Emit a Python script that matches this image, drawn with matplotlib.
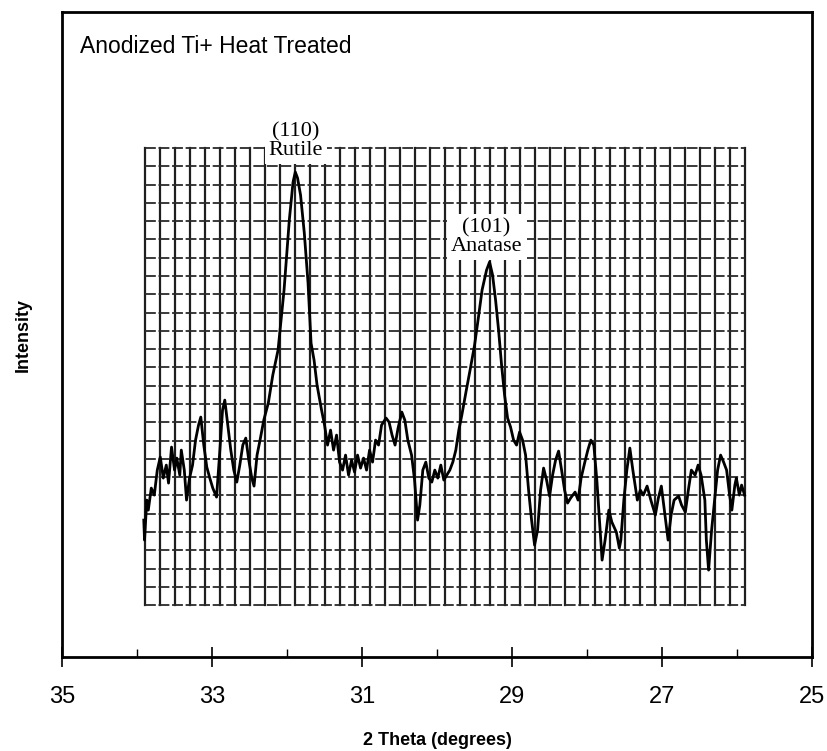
import numpy as np
import matplotlib.pyplot as plt

# XRD trace (2 theta in degrees, intensity in arbitrary units)
two_theta = [33.91, 33.90, 33.87, 33.85, 33.81, 33.77, 33.73, 33.69, 33.65, 33.61,
             33.58, 33.54, 33.50, 33.47, 33.43, 33.41, 33.37, 33.34, 33.30, 33.26,
             33.22, 33.18, 33.15, 33.11, 33.07, 33.03, 32.99, 32.94, 32.90, 32.86,
             32.83, 32.79, 32.75, 32.71, 32.67, 32.63, 32.59, 32.55, 32.51, 32.47,
             32.44, 32.40, 32.36, 32.31, 32.25, 32.19, 32.12, 32.04, 31.97, 31.92,
             31.89, 31.86, 31.82, 31.77, 31.72, 31.68, 31.64, 31.60, 31.54, 31.50,
             31.46, 31.42, 31.38, 31.34, 31.30, 31.26, 31.22, 31.18, 31.14, 31.10,
             31.06, 31.02, 30.98, 30.94, 30.90, 30.86, 30.82, 30.78, 30.74, 30.68,
             30.64, 30.60, 30.56, 30.52, 30.47, 30.43, 30.39, 30.34, 30.30, 30.26,
             30.23, 30.19, 30.15, 30.11, 30.07, 30.03, 29.99, 29.95, 29.91, 29.87,
             29.83, 29.79, 29.75, 29.71, 29.67, 29.61, 29.56, 29.50, 29.45, 29.40,
             29.34, 29.30, 29.26, 29.22, 29.18, 29.14, 29.10, 29.06, 29.02, 28.98,
             28.94, 28.90, 28.86, 28.82, 28.78, 28.74, 28.70, 28.66, 28.62, 28.58,
             28.54, 28.50, 28.46, 28.42, 28.38, 28.34, 28.30, 28.26, 28.22, 28.16,
             28.12, 28.08, 28.03, 27.99, 27.95, 27.91, 27.87, 27.84, 27.80, 27.76,
             27.71, 27.67, 27.61, 27.57, 27.55, 27.51, 27.47, 27.43, 27.39, 27.33,
             27.29, 27.25, 27.20, 27.15, 27.09, 27.05, 27.01, 26.97, 26.92, 26.88,
             26.84, 26.78, 26.74, 26.69, 26.65, 26.61, 26.56, 26.52, 26.48, 26.43,
             26.41, 26.38, 26.34, 26.30, 26.26, 26.22, 26.18, 26.14, 26.10, 26.07,
             26.03, 26.01, 25.97, 25.94, 25.90]
intensity = [137, 117, 157, 147, 169, 162, 187, 200, 179, 192,
             174, 210, 187, 199, 182, 207, 187, 157, 179, 192,
             217, 232, 240, 212, 190, 179, 169, 160, 202, 247,
             257, 232, 207, 187, 175, 192, 212, 219, 197, 179,
             171, 202, 217, 237, 254, 282, 307, 367, 437, 475,
             485, 479, 462, 424, 374, 314, 297, 272, 247, 232,
             212, 227, 207, 222, 195, 187, 202, 182, 197, 185,
             202, 189, 199, 187, 207, 195, 217, 212, 232, 239,
             235, 222, 212, 229, 245, 237, 217, 202, 177, 137,
             152, 187, 195, 179, 175, 187, 179, 192, 177, 182,
             187, 195, 207, 227, 242, 267, 287, 312, 339, 367,
             387, 395, 382, 357, 327, 292, 262, 239, 230, 217,
             212, 225, 217, 202, 167, 137, 112, 127, 167, 189,
             177, 161, 182, 197, 206, 187, 167, 154, 159, 165,
             157, 179, 195, 207, 217, 212, 177, 142, 97, 117,
             147, 135, 125, 109, 117, 157, 187, 209, 187, 157,
             167, 162, 171, 157, 142, 159, 171, 147, 117, 142,
             157, 161, 152, 145, 167, 187, 182, 192, 182, 157,
             117, 87, 127, 157, 187, 202, 195, 187, 162, 147,
             172, 179, 162, 172, 162]

major_ticks = [35, 33, 31, 29, 27, 25]
minor_ticks = [34, 32, 30, 28, 26]

# chart-paper grid printed under the trace
grid_x = np.arange(33.9, 25.8, -0.2)
grid_y = 52 + 18.28 * np.arange(26)

peaks = [("(110)\nRutile", 31.88, 497), ("(101)\nAnatase", 29.34, 401)]

fig = plt.figure(figsize=(8.27, 7.51), dpi=100)
ax = fig.add_axes([0.075, 0.125, 0.907, 0.859])

for gx in grid_x:
    ax.plot([gx, gx], [grid_y[0], grid_y[-1]], color='#1e1e1e', lw=1.6, zorder=1)
for gy in grid_y:
    ax.plot([grid_x[0], grid_x[-1]], [gy, gy], color='#2a2a2a', lw=1.3,
            dashes=(6, 1.5), zorder=1)

ax.plot(two_theta, intensity, color='black', lw=2.0, zorder=3)

for txt, px, py in peaks:
    ax.text(px, py, txt, ha='center', va='bottom', fontsize=16,
            family='Liberation Serif', linespacing=0.95, zorder=4,
            bbox=dict(facecolor='white', edgecolor='none', pad=3))

ax.text(0.024, 0.947, "Anodized Ti+ Heat Treated", transform=ax.transAxes,
        fontsize=16.5, family='Liberation Sans', va='center', ha='left')

ax.set_xlim(35, 25)
ax.set_ylim(0, 645)
ax.set_xticks(major_ticks)
ax.set_xticks(minor_ticks, minor=True)
ax.tick_params(axis='x', which='major', direction='inout', length=14, width=1.2,
               labelsize=17, pad=14)
ax.tick_params(axis='x', which='minor', direction='in', length=6, width=1)
ax.set_yticks([])
for lbl in ax.get_xticklabels():
    lbl.set_family('Liberation Sans')
for s in ax.spines.values():
    s.set_linewidth(2)

ax.set_xlabel("2 Theta (degrees)", fontsize=13, fontweight='bold',
              family='Liberation Sans', labelpad=17)
ax.set_ylabel("Intensity", fontsize=13, fontweight='bold',
              family='Liberation Sans', labelpad=22)

fig.savefig("out.png", dpi=100)
